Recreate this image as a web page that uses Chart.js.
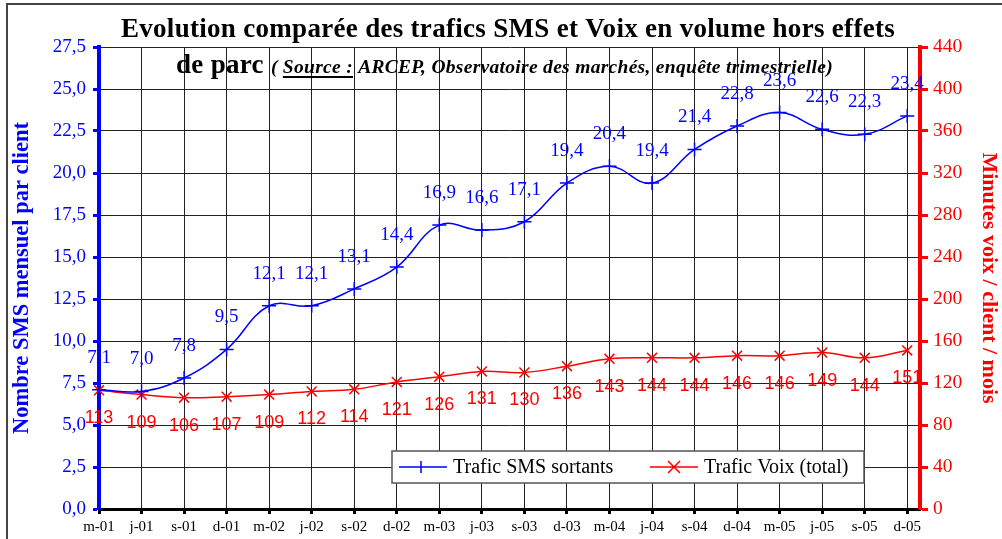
<!DOCTYPE html>
<html>
<head>
<meta charset="utf-8">
<script src="https://cdn.jsdelivr.net/npm/chart.js@4.4.1/dist/chart.umd.min.js"></script>
<style>
    html, body { margin: 0; padding: 0; background: #fff; }
    #wrap { position: relative; width: 1002px; height: 539px; }
</style>
</head>
<body>
<div id="wrap"><canvas id="myChart"></canvas></div>
<script>
const labels = ['m-01', 'j-01', 's-01', 'd-01', 'm-02', 'j-02', 's-02', 'd-02', 'm-03', 'j-03',
    's-03', 'd-03', 'm-04', 'j-04', 's-04', 'd-04', 'm-05', 'j-05', 's-05', 'd-05'];
const smsValues = [7.1, 7.0, 7.8, 9.5, 12.1, 12.1, 13.1, 14.4, 16.9, 16.6,
    17.1, 19.4, 20.4, 19.4, 21.4, 22.8, 23.6, 22.6, 22.3, 23.4];
const voixValues = [113, 109, 106, 107, 109, 112, 114, 121, 126, 131,
    130, 136, 143, 144, 144, 146, 146, 149, 144, 151];
const smsTicks = [0, 2.5, 5, 7.5, 10, 12.5, 15, 17.5, 20, 22.5, 25, 27.5];
const voixTicks = [0, 40, 80, 120, 160, 200, 240, 280, 320, 360, 400, 440];

const serif = '"Liberation Serif", "Times New Roman", serif';
const sans = '"Liberation Sans", Arial, sans-serif';
const BLUE = '#0000ff';
const RED = '#ff0000';

function fr(v, d) {
    return v.toFixed(d).replace('.', ',');
}

// titre, cadre, legende, etiquettes de valeurs
const decor = {
    id: 'decor',
    beforeDraw(chart) {
        const c = chart.ctx;
        c.save();
        c.fillStyle = '#fff';
        c.fillRect(0, 0, chart.width, chart.height);
        c.strokeStyle = '#444';
        c.lineWidth = 2;
        c.strokeRect(7, 4, 1100, 600);
        c.restore();
    },
    afterDatasetsDraw(chart) {
        const c = chart.ctx;
        c.save();
        c.textAlign = 'center';
        c.textBaseline = 'middle';
        chart.getDatasetMeta(0).data.forEach((p, i) => {
            c.font = '19px ' + serif;
            c.fillStyle = BLUE;
            c.fillText(fr(smsValues[i], 1), p.x, p.y - 32);
        });
        chart.getDatasetMeta(1).data.forEach((p, i) => {
            c.font = '18px ' + sans;
            c.fillStyle = RED;
            c.fillText(String(voixValues[i]), p.x, p.y + 28);
        });
        c.restore();
    },
    afterDraw(chart) {
        const c = chart.ctx;
        c.save();
        c.fillStyle = '#000';
        c.textBaseline = 'alphabetic';
        c.textAlign = 'left';
        c.font = 'bold 27px ' + serif;
        c.letterSpacing = '0.3px';
        const t1 = 'Evolution comparée des trafics SMS et Voix en volume hors effets';
        const w1 = c.measureText(t1).width;
        c.fillText(t1, 508 - w1 / 2, 37);

        let x = 176;
        c.font = 'bold 27px ' + serif;
        c.fillText('de parc ', x, 73);
        x += c.measureText('de parc ').width;
        c.font = 'italic bold 19.5px ' + serif;
        c.fillText('( ', x, 73);
        x += c.measureText('( ').width;
        const src = 'Source :';
        const ws = c.measureText(src).width;
        c.fillText(src, x, 73);
        c.fillRect(x, 76, ws, 2);
        x += ws;
        c.fillText(' ARCEP, Observatoire des marchés, enquête trimestrielle)', x, 73);
        c.letterSpacing = '0px';

        // legende
        c.fillStyle = '#fff';
        c.fillRect(392, 451, 472, 32);
        c.strokeStyle = '#555';
        c.lineWidth = 1.5;
        c.strokeRect(392, 451, 472, 32);
        c.lineWidth = 1.5;
        c.strokeStyle = BLUE;
        c.beginPath();
        c.moveTo(399, 467); c.lineTo(447, 467);
        c.moveTo(421, 461); c.lineTo(421, 473);
        c.stroke();
        c.strokeStyle = RED;
        c.beginPath();
        c.moveTo(650, 467); c.lineTo(698, 467);
        c.moveTo(668, 461); c.lineTo(680, 473);
        c.moveTo(680, 461); c.lineTo(668, 473);
        c.stroke();
        c.fillStyle = '#000';
        c.font = '20px ' + serif;
        c.textBaseline = 'middle';
        c.fillText('Trafic SMS sortants', 453, 468);
        c.fillText('Trafic Voix (total)', 704, 468);
        c.restore();
    }
};

const ctx = document.getElementById('myChart').getContext('2d');
const myChart = new Chart(ctx, {
    type: 'line',
    data: {
        datasets: [{
            label: 'Trafic SMS sortants',
            data: smsValues.map((v, i) => ({ x: i, y: v })),
            yAxisID: 'ySms',
            borderColor: BLUE,
            backgroundColor: BLUE,
            borderWidth: 1.5,
            pointStyle: 'cross',
            pointRadius: 7,
            pointBorderWidth: 1.5,
            tension: 0.4,
            clip: false
        }, {
            label: 'Trafic Voix (total)',
            data: voixValues.map((v, i) => ({ x: i, y: v })),
            yAxisID: 'yVoix',
            borderColor: RED,
            backgroundColor: RED,
            borderWidth: 1.5,
            pointStyle: 'crossRot',
            pointRadius: 7,
            pointBorderWidth: 1.5,
            tension: 0.4,
            clip: false
        }]
    },
    options: {
        responsive: true,
        maintainAspectRatio: false,
        animation: false,
        layout: { padding: { top: 47, left: 0, right: 0, bottom: 0 } },
        plugins: {
            legend: { display: false },
            tooltip: { enabled: false }
        },
        scales: {
            x: {
                type: 'linear',
                min: 0,
                max: 19.3,
                afterFit: (s) => { s.height = 30; },
                afterBuildTicks: (s) => { s.ticks = labels.map((l, i) => ({ value: i })); },
                ticks: {
                    includeBounds: false,
                    stepSize: 1,
                    autoSkip: false,
                    maxRotation: 0,
                    padding: 4,
                    color: '#000',
                    font: { family: serif, size: 15 },
                    callback: (v) => labels[v]
                },
                grid: { color: '#222', lineWidth: 1, tickLength: 5, tickColor: '#000', tickWidth: 3 },
                border: { color: '#000', width: 3 }
            },
            ySms: {
                position: 'left',
                min: 0,
                max: 27.5,
                afterFit: (s) => { s.width = 99; },
                afterBuildTicks: (s) => { s.ticks = smsTicks.map(v => ({ value: v })); },
                ticks: {
                    color: BLUE,
                    padding: 7,
                    font: { family: serif, size: 19 },
                    callback: (v) => fr(v, 1)
                },
                title: {
                    display: true,
                    text: 'Nombre SMS mensuel par client',
                    color: BLUE,
                    font: { family: serif, size: 22.5, weight: 'bold' },
                    padding: { top: 9, bottom: 0 }
                },
                grid: { color: '#222', lineWidth: 1, tickLength: 6, tickColor: BLUE, tickWidth: 3 },
                border: { color: BLUE, width: 4 }
            },
            yVoix: {
                position: 'right',
                min: 0,
                max: 440,
                afterFit: (s) => { s.width = 82; },
                afterBuildTicks: (s) => { s.ticks = voixTicks.map(v => ({ value: v })); },
                ticks: {
                    color: RED,
                    padding: 5,
                    font: { family: serif, size: 19.5 },
                    callback: (v) => String(v)
                },
                title: {
                    display: true,
                    text: 'Minutes voix / client / mois',
                    color: RED,
                    font: { family: serif, size: 22, weight: 'bold' },
                    padding: { top: 0, bottom: 1 }
                },
                grid: { drawOnChartArea: false, tickLength: 8, tickColor: RED, tickWidth: 3 },
                border: { color: RED, width: 4 }
            }
        }
    },
    plugins: [decor]
});
</script>
</body>
</html>
